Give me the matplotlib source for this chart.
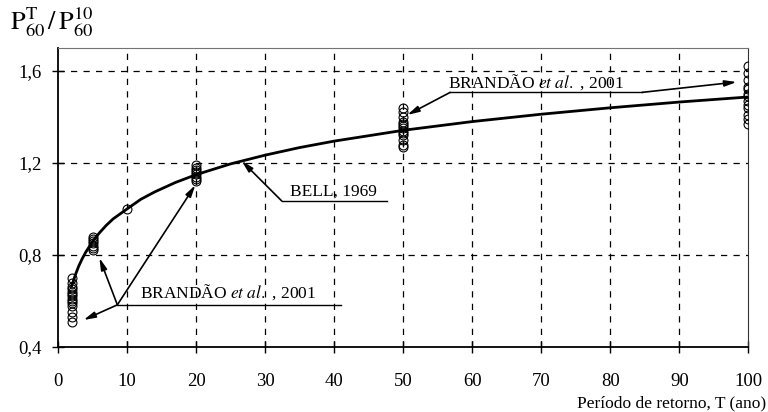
import matplotlib
matplotlib.use('Agg')
import matplotlib.pyplot as plt
import numpy as np

plt.rcParams['font.family'] = ['Liberation Serif', 'DejaVu Serif']
plt.rcParams['mathtext.fontset'] = 'stix'

# BELL (1969) curve
t_bell = [2, 2.5, 3, 3.5, 4, 5, 6, 7, 8, 10, 12, 14, 17, 20, 25, 30, 35, 40,
          50, 60, 70, 80, 90, 100]
r_bell = [0.666, 0.712, 0.751, 0.783, 0.811, 0.858, 0.896, 0.929, 0.957, 1.000,
          1.042, 1.074, 1.115, 1.149, 1.196, 1.234, 1.267, 1.295, 1.342, 1.380,
          1.412, 1.440, 1.465, 1.487]

# BRANDAO et al. (2001) ratios per return period
r_t2 = [0.51, 0.53, 0.55, 0.58, 0.59, 0.60, 0.61, 0.62, 0.63, 0.64, 0.65, 0.66, 0.68, 0.70]
r_t5 = [0.82, 0.83, 0.84, 0.85, 0.86, 0.87, 0.88]
r_t10 = [1.00]
r_t20 = [1.12, 1.13, 1.14, 1.15, 1.16, 1.17, 1.18, 1.19]
r_t50 = [1.27, 1.28, 1.30, 1.32, 1.33, 1.34, 1.35, 1.36, 1.37, 1.38, 1.40, 1.42, 1.44]
r_t100 = [1.37, 1.39, 1.41, 1.44, 1.45, 1.47, 1.49, 1.50, 1.52, 1.53, 1.56, 1.59, 1.62]
periods = [2, 5, 10, 20, 50, 100]
groups = [r_t2, r_t5, r_t10, r_t20, r_t50, r_t100]

xticks = [0, 10, 20, 30, 40, 50, 60, 70, 80, 90, 100]
yticks = [0.4, 0.8, 1.2, 1.6]
ylabels = ['0,4', '0,8', '1,2', '1,6']

fig = plt.figure(figsize=(7.68, 4.12), dpi=100)
ax = fig.add_axes([0.0755, 0.158, 0.899, 0.7255])

for T, vals in zip(periods, groups):
    ax.plot([T] * len(vals), vals, 'o', mfc='none', mec='k', mew=0.8, ms=6.4, zorder=3)

ax.plot(t_bell, r_bell, 'k-', lw=2.0, zorder=4)

ax.set_xlim(0, 100)
ax.set_ylim(0.4, 1.7)
ax.set_xticks(xticks)
ax.set_yticks(yticks)
ax.set_yticklabels(ylabels)
ax.tick_params(direction='inout', length=9, width=1, labelsize=13.5, colors='k')
ax.tick_params(axis='x', pad=14)
ax.tick_params(axis='y', pad=7)

for x in xticks[1:-1]:
    ax.axvline(x, color='k', ls=(0, (5, 5)), lw=0.9, zorder=1)
for y in yticks[1:]:
    ax.axhline(y, color='k', ls=(0, (5, 5)), lw=0.9, zorder=1)

for s in ['left', 'bottom']:
    ax.spines[s].set_linewidth(1.3)
ax.spines['top'].set_color('0.45')
ax.spines['right'].set_color('0.2')

ap = dict(arrowstyle='-|>,head_length=0.7,head_width=0.18', color='k', lw=1.2,
          shrinkA=0, shrinkB=0)
fs = 12.5

# top annotation
ax.plot([56.8, 84.6], [1.507, 1.507], 'k-', lw=1.0)
ax.annotate('', xy=(50.6, 1.409), xytext=(56.8, 1.507), arrowprops=ap)
ax.annotate('', xy=(98.3, 1.552), xytext=(84.6, 1.507), arrowprops=ap)
ax.text(69.2, 1.527, r'BRANDÃO $\it{et\ al.}$ , 2001', ha='center', va='baseline', fontsize=fs)

# BELL annotation
ax.plot([32.4, 47.6], [1.035, 1.035], 'k-', lw=1.0)
ax.annotate('', xy=(26.6, 1.209), xytext=(32.4, 1.035), arrowprops=ap)
ax.text(39.9, 1.057, 'BELL, 1969', ha='center', va='baseline', fontsize=fs)

# bottom annotation
ax.plot([8.6, 41.0], [0.583, 0.583], 'k-', lw=1.0)
ax.annotate('', xy=(3.7, 0.517), xytext=(8.6, 0.583), arrowprops=ap)
ax.annotate('', xy=(6.0, 0.787), xytext=(8.6, 0.583), arrowprops=ap)
ax.annotate('', xy=(19.9, 1.104), xytext=(8.6, 0.583), arrowprops=ap)
ax.text(24.6, 0.613, r'BRANDÃO $\it{et\ al.}$ , 2001', ha='center', va='baseline', fontsize=fs)

fig.text(0.997, 0.012, 'Período de retorno, T (ano)', ha='right', va='baseline', fontsize=12.5)
fig.text(0.013, 0.945, r'$\mathrm{P}_{60}^{\mathrm{T}}\,/\,\mathrm{P}_{60}^{10}$',
         ha='left', va='center', fontsize=19)

fig.savefig('out.png', dpi=100)
